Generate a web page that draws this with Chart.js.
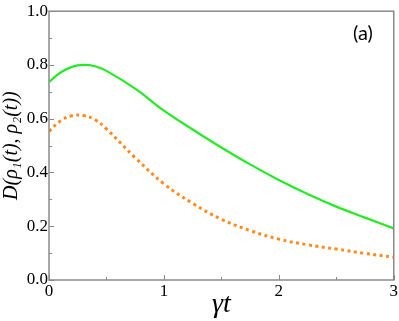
<!DOCTYPE html>
<html>
<head>
<meta charset="utf-8">
<script src="https://cdn.jsdelivr.net/npm/chart.js@4"></script>
<style>
  html, body { margin: 0; padding: 0; background: #fff; }
  #wrap { width: 399px; height: 321px; position: relative; }
</style>
</head>
<body>
<div id="wrap"><canvas id="chart"></canvas></div>
<script>
// gamma*t sample points
const times = [0, 0.1, 0.2, 0.3, 0.4, 0.5, 0.75, 1, 1.25, 1.5, 1.75, 2, 2.25, 2.5, 2.75, 3];
// solid green curve
const greenVals = [0.737, 0.772, 0.793, 0.8, 0.795, 0.778, 0.712, 0.63, 0.56, 0.493, 0.43, 0.372, 0.32, 0.273, 0.232, 0.192];
// dotted orange curve
const orangeVals = [0.553, 0.592, 0.611, 0.612, 0.596, 0.562, 0.455, 0.358, 0.285, 0.226, 0.184, 0.152, 0.131, 0.115, 0.099, 0.085];

const yTicks = [0, 0.2, 0.4, 0.6, 0.8, 1.0];
const xTicks = [0, 1, 2, 3];

const frameColor = '#8a8a8a';
const serif = '"Liberation Serif", "Times New Roman", serif';
Chart.defaults.font.family = serif;

function toPoints(vals) {
  return times.map((t, i) => ({x: t, y: vals[i]}));
}

// frame, inward ticks and the panel tag
const framePlugin = {
  id: 'frame',
  afterDraw(chart) {
    const {ctx, chartArea: a, scales} = chart;
    ctx.save();
    ctx.strokeStyle = frameColor;
    ctx.lineWidth = 1.5;
    ctx.strokeRect(a.left, a.top, a.right - a.left, a.bottom - a.top);

    ctx.lineWidth = 1;
    ctx.beginPath();
    for (let v = 0; v <= 1.0001; v += 0.1) {
      const y = Math.round(scales.y.getPixelForValue(v)) + 0.5;
      const major = Math.round(v * 10) % 2 === 0;
      ctx.moveTo(a.left, y);
      ctx.lineTo(a.left + (major ? 5 : 3), y);
    }
    for (let v = 0; v <= 3.0001; v += 0.5) {
      const x = Math.round(scales.x.getPixelForValue(v)) + 0.5;
      const major = Math.round(v * 2) % 2 === 0;
      ctx.moveTo(x, a.bottom);
      ctx.lineTo(x, a.bottom - (major ? 5 : 3));
    }
    ctx.stroke();

    ctx.fillStyle = '#000';
    ctx.font = '20px Lato, "Open Sans", sans-serif';
    ctx.textAlign = 'left';
    ctx.textBaseline = 'alphabetic';
    ctx.fillText('(a)', 353, 40);
    ctx.restore();
  }
};

new Chart(document.getElementById('chart'), {
  type: 'line',
  data: {
    datasets: [
      {
        data: toPoints(greenVals),
        borderColor: '#26ea26',
        borderWidth: 2.2,
        pointRadius: 0,
        tension: 0.4,
        fill: false
      },
      {
        data: toPoints(orangeVals),
        borderColor: '#ff8a20',
        borderWidth: 3,
        borderDash: [3, 3.5],
        pointRadius: 0,
        tension: 0.4,
        fill: false
      }
    ]
  },
  options: {
    responsive: true,
    maintainAspectRatio: false,
    animation: false,
    events: [],
    layout: {padding: {top: 10, right: 4, left: 0, bottom: 0}},
    plugins: {
      legend: {display: false},
      tooltip: {enabled: false}
    },
    scales: {
      x: {
        type: 'linear',
        min: 0,
        max: 3,
        afterBuildTicks: s => { s.ticks = xTicks.map(v => ({value: v})); },
        afterFit: s => { s.height = 41; },
        grid: {display: false, drawTicks: false},
        border: {display: false},
        ticks: {
          color: '#000',
          padding: 1,
          maxRotation: 0,
          font: {family: serif, size: 17}
        },
        title: {
          display: true,
          text: 'γt',
          color: '#000',
          padding: {top: 0, bottom: 0},
          font: {family: serif, size: 28, style: 'italic'}
        }
      },
      y: {
        min: 0,
        max: 1,
        afterBuildTicks: s => { s.ticks = yTicks.map(v => ({value: v})); },
        afterFit: s => { s.width = 49; },
        grid: {display: false, drawTicks: false},
        border: {display: false},
        ticks: {
          color: '#000',
          padding: 1,
          callback: v => v.toFixed(1),
          font: {family: serif, size: 17}
        },
        title: {
          display: true,
          text: 'D(ρ₁(t), ρ₂(t))',
          color: '#000',
          padding: {top: 0, bottom: 0},
          font: {family: serif, size: 20, style: 'italic'}
        }
      }
    }
  },
  plugins: [framePlugin]
});
</script>
</body>
</html>
